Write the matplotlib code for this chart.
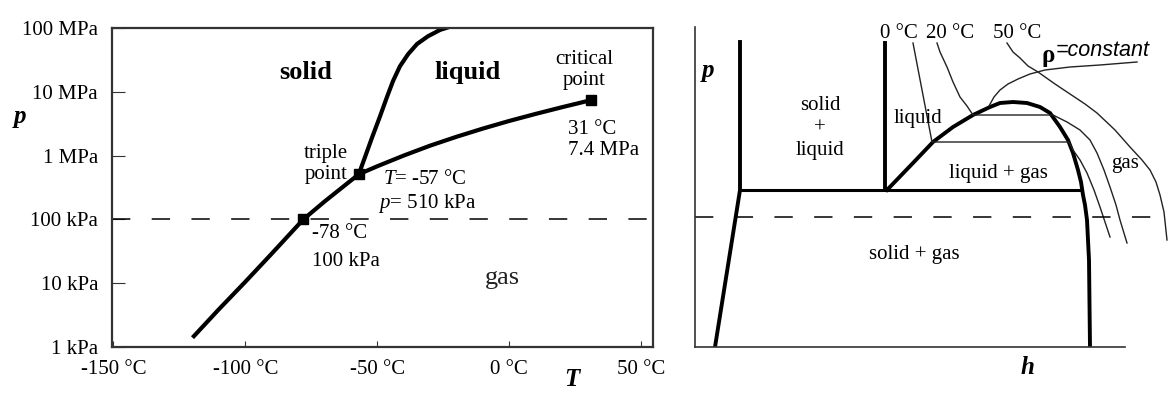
import matplotlib
matplotlib.use("Agg")
import matplotlib.pyplot as plt

plt.rcParams['font.family'] = ['Liberation Serif', 'DejaVu Serif']
plt.rcParams['mathtext.fontset'] = 'custom'
plt.rcParams['mathtext.rm'] = 'Liberation Serif'
plt.rcParams['mathtext.it'] = 'Liberation Serif:italic'

# --- CO2 phase diagram, p-T (T in °C, p in kPa) ---
sub_T = [-120, -110, -100, -90, -78, -70, -57]
sub_p = [1.4, 3.9, 10.5, 29, 100, 190, 510]
vap_T = [-57, -50, -40, -30, -20, -10, 0, 10, 20, 31]
vap_p = [510, 680, 1000, 1430, 1970, 2650, 3490, 4500, 5730, 7400]
melt_T = [-57, -54.6, -52.0, -48.9, -46.3, -44.0, -41.4, -38.3, -34.9, -30.8,
          -26.2, -21.7]
melt_p = [510, 955, 1900, 4170, 8300, 14800, 25100, 38900, 56200, 74100,
          93300, 107000]

point_T = [-78, -57, 31]      # sublimation at 1 atm, triple point, critical point
point_p = [100, 510, 7400]
atm_p = 100

T_ticks = [-150, -100, -50, 0, 50]
T_labels = ['-150 °C', '-100 °C', '-50 °C', '0 °C', '50 °C']
p_ticks = [1, 10, 100, 1e3, 1e4, 1e5]
p_labels = ['1 kPa', '10 kPa', '100 kPa', '1 MPa', '10 MPa', '100 MPa']

# --- schematic p-h diagram (arbitrary units) ---
h_solid = [45, 45, 20]
p_solid = [305, 157, 0]
h_melt = [190, 190]
p_melt = [304, 157]
h_triple = [45, 385]
p_triple = [157, 157]
h_dome = [192, 218, 238, 258, 278, 295, 305, 318, 332, 345, 355, 365, 373,
          378, 383, 386, 388, 390, 392, 394, 395]
p_dome = [157, 184, 205, 220, 232, 240, 244, 245, 244, 240, 234, 220, 207,
          194, 177, 165, 152, 142, 127, 87, 0]
h_iso0 = [218, 237, 374, 378, 385, 392, 399, 405, 410, 415]
p_iso0 = [304, 205, 205, 197, 187, 174, 157, 140, 125, 110]
h_iso20 = [242, 245, 252, 258, 265, 272, 278, 358, 372, 385, 395, 402, 409,
           415, 421, 425, 432]
p_iso20 = [304, 295, 280, 265, 250, 241, 232, 232, 225, 217, 207, 194, 177,
           160, 142, 127, 104]
h_iso50 = [312, 318, 325, 333, 343, 360, 375, 390, 402, 420, 435, 447, 455,
           461, 465, 469, 472]
p_iso50 = [304, 295, 289, 281, 275, 263, 253, 243, 234, 217, 200, 187, 177,
           165, 152, 135, 107]
h_rho = [294, 299, 305, 313, 323, 335, 350, 375, 405, 442]
p_rho = [241, 250, 257, 263, 268, 273, 277, 280, 282, 285]
p_atm_ph = 130

W, H = 1168, 394
fig = plt.figure(figsize=(W / 100, H / 100), dpi=100)

# ---------------- left: p-T ----------------
ax = fig.add_axes([112 / W, 47 / H, 541 / W, 319 / H])
ax.plot(sub_T, sub_p, color='black', lw=3, solid_capstyle='butt')
ax.plot(vap_T, vap_p, color='black', lw=3, solid_joinstyle='round')
ax.plot(melt_T, melt_p, color='black', lw=3, solid_joinstyle='round')
ax.axhline(atm_p, color='black', lw=1.1, dashes=(12, 14))
ax.plot(point_T, point_p, 's', color='black', ms=7)

ax.set_yscale('log')
ax.set_xlim(-150.5, 54.5)
ax.set_ylim(1, 1e5)
ax.set_xticks(T_ticks, T_labels)
ax.set_yticks(p_ticks, p_labels)
ax.minorticks_off()
ax.tick_params(direction='in', labelsize=15, color='#333333')
ax.tick_params(axis='y', length=9, pad=10)
ax.tick_params(axis='x', length=4, pad=9)
for s in ax.spines.values():
    s.set_linewidth(1.6)
    s.set_color('#333333')

ax.text(-77, 2.0e4, 'solid', fontsize=19, fontweight='bold', ha='center', va='center')
ax.text(-15.6, 2.0e4, 'liquid', fontsize=19, fontweight='bold', ha='center', va='center')
ax.text(-2.7, 12, 'gas', fontsize=19, ha='center', va='center', color='#222222')
ax.text(28.4, 2.2e4, 'critical\npoint', fontsize=15, ha='center', va='center',
        linespacing=1.1)
ax.text(22.3, 1750, '31 °C\n7.4 MPa', fontsize=15, ha='left', va='center',
        linespacing=1.1)
ax.text(-69.5, 740, 'triple\npoint', fontsize=15, ha='center', va='center',
        linespacing=1.1)
ax.text(-47.8, 415, '$T$= -57 °C', fontsize=15, ha='left', va='center')
ax.text(-49.7, 180, '$p$= 510 kPa', fontsize=15, ha='left', va='center')
ax.text(-74.7, 61, '-78 °C', fontsize=15, ha='left', va='center')
ax.text(-74.7, 21.5, '100 kPa', fontsize=15, ha='left', va='center')

fig.text(20 / W, 1 - 117 / H, 'p', fontsize=18, fontweight='bold', style='italic',
         ha='center', va='center')
fig.text(572 / W, 1 - 380 / H, 'T', fontsize=18, fontweight='bold', style='italic',
         ha='center', va='center')

# ---------------- right: p-h ----------------
bx = fig.add_axes([695 / W, 47 / H, 473 / W, 347 / H])
bx.set_xlim(0, 473)
bx.set_ylim(0, 347)
for s in ['top', 'right']:
    bx.spines[s].set_visible(False)
bx.spines['left'].set_bounds(0, 320)
bx.spines['bottom'].set_bounds(0, 430)
for s in ['left', 'bottom']:
    bx.spines[s].set_linewidth(1.2)
    bx.spines[s].set_color('#333333')
bx.set_xticks([])
bx.set_yticks([])

thick = dict(color='black', lw=2.8, solid_joinstyle='round')
thin = dict(color='#222222', lw=1.0)
bx.plot(h_solid, p_solid, **thick)
bx.plot(h_melt, p_melt, **thick)
bx.plot(h_triple, p_triple, color='black', lw=2.2)
bx.plot(h_dome, p_dome, **thick)
bx.plot(h_iso0, p_iso0, **thin)
bx.plot(h_iso20, p_iso20, **thin)
bx.plot(h_iso50, p_iso50, **thin)
bx.plot(h_rho, p_rho, **thin)
bx.axhline(p_atm_ph, color='black', lw=1.1, dashes=(12, 14))

bx.text(204, 314, '0 °C', fontsize=15, ha='center', va='center')
bx.text(255, 314, '20 °C', fontsize=15, ha='center', va='center')
bx.text(322, 314, '50 °C', fontsize=15, ha='center', va='center')
bx.text(353, 292, 'ρ', fontsize=18, fontweight='bold', ha='center', va='center')
bx.text(361, 297, '=constant', fontsize=15.5, style='italic', family='Liberation Sans',
        ha='left', va='center')
bx.text(125, 219, 'solid\n+\nliquid', fontsize=15, ha='center', va='center',
        linespacing=1.25)
bx.text(223, 229, 'liquid', fontsize=15, ha='center', va='center')
bx.text(303, 174, 'liquid + gas', fontsize=15, ha='center', va='center')
bx.text(430, 184, 'gas', fontsize=15, ha='center', va='center')
bx.text(219, 92, 'solid + gas', fontsize=15, ha='center', va='center')
bx.text(13, 277, 'p', fontsize=18, fontweight='bold', style='italic',
        ha='center', va='center')
bx.text(332, -20, 'h', fontsize=18, fontweight='bold', style='italic',
        ha='center', va='center')

fig.savefig('out.png', dpi=100)
